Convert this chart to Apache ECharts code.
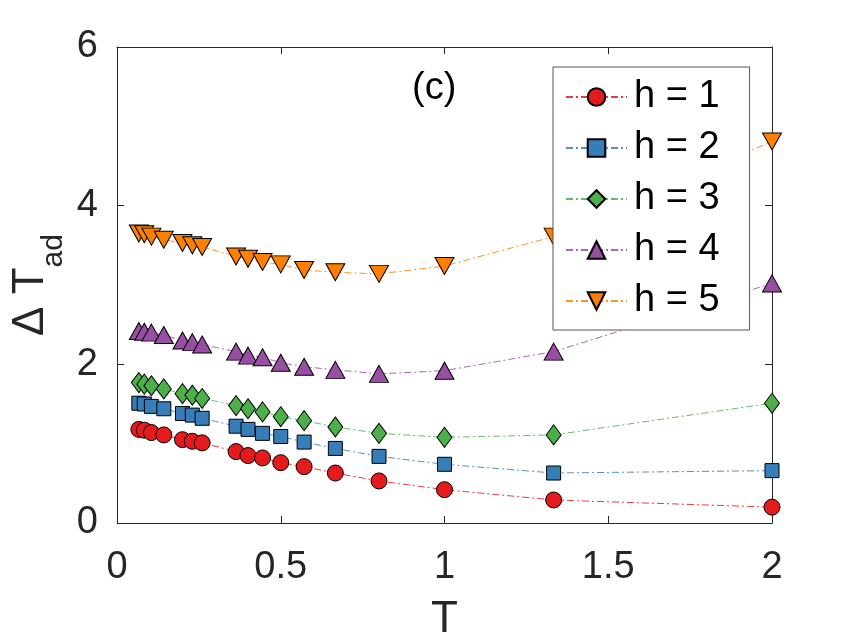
<!DOCTYPE html>
<html>
<head>
<meta charset="utf-8">
<script src="https://cdn.jsdelivr.net/npm/echarts@6/dist/echarts.min.js"></script>
<style>
html,body{margin:0;padding:0;background:#fff;}
#chart{width:853px;height:640px;}
</style>
</head>
<body>
<div id="chart"></div>
<script>
const T = [0.0667, 0.0833, 0.105, 0.1429, 0.2, 0.23, 0.26, 0.3636, 0.4, 0.4444, 0.5, 0.5714, 0.6667, 0.8, 1.0, 1.3333, 2.0];
const h1 = [1.18, 1.17, 1.14, 1.11, 1.05, 1.03, 1.01, 0.90, 0.85, 0.82, 0.76, 0.71, 0.63, 0.53, 0.42, 0.29, 0.20];
const h2 = [1.51, 1.50, 1.47, 1.44, 1.38, 1.36, 1.32, 1.22, 1.18, 1.13, 1.09, 1.02, 0.94, 0.84, 0.74, 0.63, 0.66];
const h3 = [1.77, 1.75, 1.73, 1.69, 1.63, 1.61, 1.57, 1.48, 1.44, 1.40, 1.34, 1.29, 1.21, 1.13, 1.08, 1.11, 1.51];
const h4 = [2.42, 2.41, 2.40, 2.37, 2.30, 2.28, 2.25, 2.16, 2.11, 2.09, 2.02, 1.97, 1.93, 1.88, 1.92, 2.16, 3.02];
const h5 = [3.65, 3.64, 3.61, 3.57, 3.53, 3.50, 3.48, 3.36, 3.33, 3.29, 3.26, 3.19, 3.16, 3.14, 3.24, 3.61, 4.81];
const seriesNames = ['h = 1', 'h = 2', 'h = 3', 'h = 4', 'h = 5'];
const xTicks = [0, 0.5, 1, 1.5, 2];
const yTicks = [0, 2, 4, 6];

const FONT = 'Liberation Sans, Arial, Helvetica, sans-serif';
const TXT = '#262626';
const colors = ['#e41a1c', '#377eb8', '#4daf4a', '#984ea3', '#ff7f00'];
const symbols = ['circle', 'rect', 'diamond', 'triangle', 'triangle'];
const sizes = [16, 14, [15, 20], [19, 17], [19, 17]];
const rotates = [0, 0, 0, 0, 180];
const allVals = [h1, h2, h3, h4, h5];

const series = allVals.map((vals, i) => ({
  name: seriesNames[i],
  type: 'line',
  xAxisIndex: 0,
  yAxisIndex: 0,
  data: T.map((t, k) => [t, vals[k]]),
  symbol: symbols[i],
  symbolSize: sizes[i],
  symbolRotate: rotates[i],
  showAllSymbol: true,
  lineStyle: { color: colors[i], width: 1, type: [7, 3, 2, 3], opacity: 0.85 },
  itemStyle: { color: colors[i], borderColor: '#000', borderWidth: 1 },
  emphasis: { disabled: true },
  animation: false,
  z: 2,
  zlevel: 0
}));
// invisible companion so that the top/right frame axes are drawn
series.push({
  name: 'frame',
  type: 'line',
  xAxisIndex: 1,
  yAxisIndex: 1,
  data: T.map((t, k) => [t, h1[k]]),
  symbol: 'none',
  lineStyle: { opacity: 0 },
  silent: true,
  animation: false
});

const axisCommon = {
  show: true,
  axisLine: { show: true, onZero: false, lineStyle: { color: TXT, width: 1 } },
  axisTick: { show: true, inside: true, length: 7, lineStyle: { color: TXT, width: 1 } },
  splitLine: { show: false }
};

const chart = echarts.init(document.getElementById('chart'), null, { renderer: 'canvas' });
chart.setOption({
  backgroundColor: '#fff',
  animation: false,
  title: {
    text: '(c)',
    left: 412, top: 70,
    padding: 0,
    textStyle: { fontFamily: FONT, fontSize: 38, fontWeight: 'normal', color: '#000' }
  },
  grid: { left: 117, right: 81, top: 47, bottom: 117, containLabel: false, outerBoundsMode: 'none' },
  legend: {
    orient: 'vertical',
    left: 553, top: 67,
    z: 20,
    padding: [10, 30, 9, 12],
    itemGap: 11,
    itemWidth: 61,
    itemHeight: 22,
    backgroundColor: '#fff',
    borderColor: '#555',
    borderWidth: 1,
    borderRadius: 0,
    data: seriesNames,
    textStyle: { fontFamily: FONT, fontSize: 38, color: '#000', lineHeight: 40, padding: [0, 0, 0, 2] }
  },
  xAxis: [
    Object.assign({
      type: 'value', min: xTicks[0], max: xTicks[xTicks.length - 1], interval: 0.5,
      position: 'bottom',
      name: 'T', nameLocation: 'middle', nameGap: 75, nameMoveOverlap: false,
      nameTextStyle: { fontFamily: FONT, fontSize: 44, color: TXT },
      axisLabel: { margin: 26, fontFamily: FONT, fontSize: 38, color: TXT,
        formatter: v => String(v) }
    }, axisCommon),
    Object.assign({
      type: 'value', min: xTicks[0], max: xTicks[xTicks.length - 1], interval: 0.5,
      position: 'top', axisLabel: { show: false }
    }, axisCommon)
  ],
  yAxis: [
    Object.assign({
      type: 'value', min: yTicks[0], max: yTicks[yTicks.length - 1], interval: 2,
      position: 'left',
      name: '{a|Δ T}{b|ad}', nameLocation: 'middle', nameRotate: 90, nameGap: 48, nameMoveOverlap: false,
      nameTextStyle: {
        rich: {
          a: { fontFamily: FONT, fontSize: 44, color: TXT, lineHeight: 60, verticalAlign: 'top' },
          b: { fontFamily: FONT, fontSize: 30, color: TXT, lineHeight: 30, padding: [35, 0, 0, 0], verticalAlign: 'bottom' }
        }
      },
      axisLabel: { margin: 19, fontFamily: FONT, fontSize: 38, color: TXT }
    }, axisCommon),
    Object.assign({
      type: 'value', min: yTicks[0], max: yTicks[yTicks.length - 1], interval: 2,
      position: 'right', axisLabel: { show: false }
    }, axisCommon)
  ],
  series: series
});
</script>
</body>
</html>
